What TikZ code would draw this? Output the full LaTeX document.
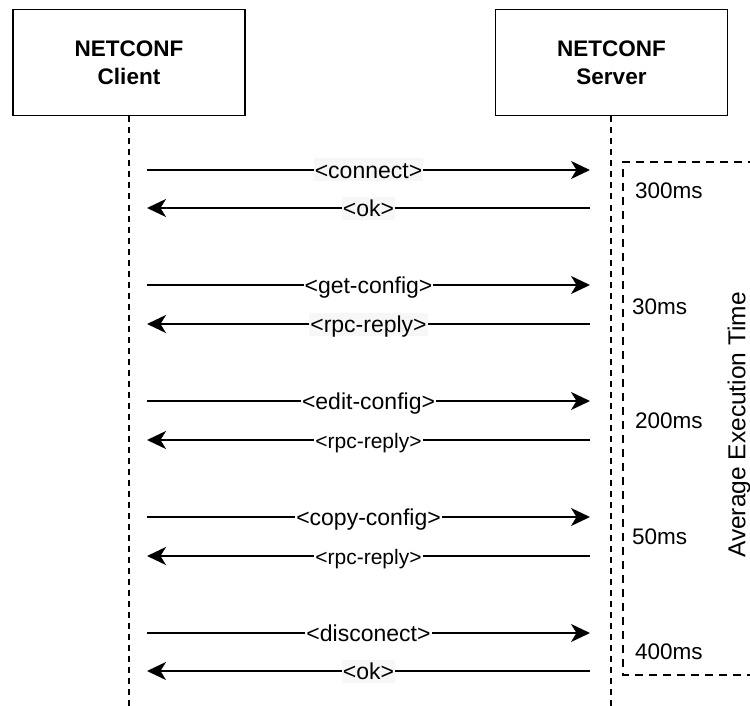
\documentclass[tikz,border=0pt]{standalone}
\usepackage{fontspec}
\setmainfont{Liberation Sans}
\usetikzlibrary{arrows.meta}
\definecolor{labelbg}{RGB}{247,247,247}
\tikzset{
  party/.style={draw, line width=1.8pt, minimum width=232pt, minimum height=106pt,
    inner sep=0pt, align=center, font=\fontsize{22.5}{28}\selectfont\bfseries},
  lifeline/.style={line width=1.8pt, dash pattern=on 6pt off 5pt},
  msg/.style={line width=1.8pt, -{Stealth[length=19pt,width=18pt,inset=5.5pt]}},
  msglabel/.style={fill=labelbg, inner sep=1pt, text height=19pt, text depth=2pt,
    font=\fontsize{23}{26}\selectfont},
  smalllabel/.style={msglabel, fill=white, text height=17.5pt, text depth=1.5pt,
    font=\fontsize{21}{24}\selectfont},
  timelabel/.style={anchor=west, inner sep=0pt, text height=18pt, text depth=2pt,
    font=\fontsize{22.5}{26}\selectfont},
  frame/.style={line width=1.8pt, dash pattern=on 8pt off 6pt}
}
\begin{document}
\begin{tikzpicture}[x=1pt, y=-1pt]
  \useasboundingbox (0,0) rectangle (750,706);

  % participants
  \node[party] (client) at (129,62.6) {NETCONF\\Client};
  \node[party] (server) at (611.5,62.6) {NETCONF\\Server};

  % lifelines
  \coordinate (clientEnd) at (129,706);
  \coordinate (serverEnd) at (611,706);
  \draw[lifeline] (client.south) -- (clientEnd);
  \draw[lifeline] (client.south -| serverEnd) -- (serverEnd);

  % message end points
  \foreach \n/\y in {1/170, 2/208, 3/285, 4/324, 5/401, 6/440, 7/517, 8/556, 9/633, 10/671}{
    \coordinate (c\n) at (147,\y);
    \coordinate (s\n) at (590,\y);
  }

  % requests and replies
  \draw[msg] (c1) -- node[msglabel] (m1) {<connect>} (s1);
  \draw[msg] (s2) -- node[msglabel] (m2) {<ok>} (c2);
  \draw[msg] (c3) -- node[msglabel, fill=white] (m3) {<get-config>} (s3);
  \draw[msg] (s4) -- node[msglabel] (m4) {<rpc-reply>} (c4);
  \draw[msg] (c5) -- node[msglabel, fill=white] (m5) {<edit-config>} (s5);
  \draw[msg] (s6) -- node[smalllabel] (m6) {<rpc-reply>} (c6);
  \draw[msg] (c7) -- node[msglabel, fill=white] (m7) {<copy-config>} (s7);
  \draw[msg] (s8) -- node[smalllabel] (m8) {<rpc-reply>} (c8);
  \draw[msg] (c9) -- node[msglabel, fill=white] (m9) {<disconect>} (s9);
  \draw[msg] (s10) -- node[msglabel] (m10) {<ok>} (c10);

  % execution time frame, open on the right
  \begin{scope}
    \clip (0,0) rectangle (750,706);
    \draw[frame] (770,162) -- (623,162) -- (623,675) -- (770,675);
  \end{scope}

  \node[timelabel] (t1) at (635,190) {300ms};
  \node[timelabel] (t2) at (632,306) {30ms};
  \node[timelabel] (t3) at (635,420) {200ms};
  \node[timelabel] (t4) at (632,536) {50ms};
  \node[timelabel] (t5) at (635,651) {400ms};

  \node[rotate=90, inner sep=0pt, font=\fontsize{24.5}{26}\selectfont] (avg) at (739,425) {Average Execution Time};
\end{tikzpicture}
\end{document}
